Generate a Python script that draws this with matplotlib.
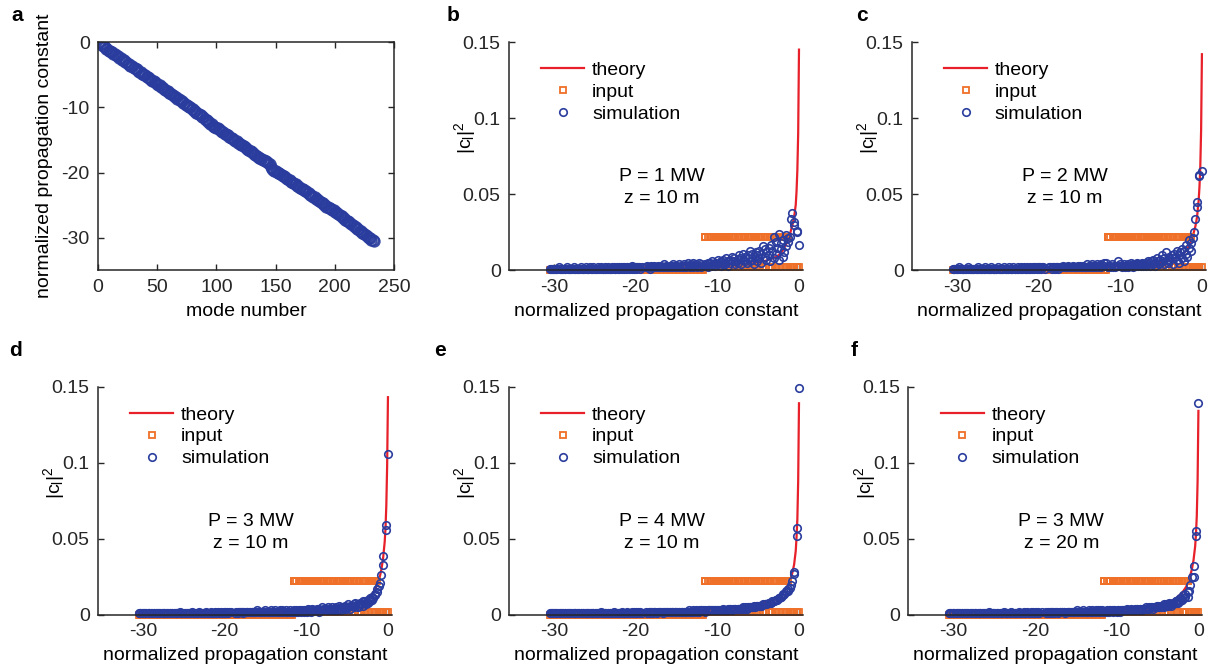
#!/usr/bin/env python
"""Mode propagation constants and thermalised mode occupancies (panels a-f)."""

import matplotlib

matplotlib.use("Agg")
import matplotlib.pyplot as plt
import numpy as np

# normalized propagation constant of each mode (mode 1 .. 233)
BETA = [
    0.0, -0.3, -0.3, -0.6, -0.6, -0.8, -1.0, -1.1, -1.3, -1.3,
    -1.6, -1.6, -1.8, -1.9, -2.0, -2.2, -2.2, -2.5, -2.5, -2.7,
    -2.8, -2.8, -3.1, -3.1, -3.3, -3.4, -3.6, -3.7, -3.7, -4.0,
    -4.0, -4.2, -4.2, -4.4, -4.6, -4.6, -4.9, -4.9, -5.1, -5.1,
    -5.3, -5.4, -5.5, -5.7, -5.8, -6.0, -6.0, -6.2, -6.3, -6.4,
    -6.6, -6.6, -6.9, -6.9, -7.1, -7.2, -7.3, -7.5, -7.5, -7.8,
    -7.8, -8.0, -8.1, -8.2, -8.4, -8.4, -8.7, -8.7, -8.9, -9.1,
    -9.1, -9.3, -9.4, -9.6, -9.6, -9.8, -9.9, -10.0, -10.3, -10.3,
    -10.5, -10.6, -10.8, -10.9, -11.0, -11.2, -11.2, -11.5, -11.5, -11.8,
    -12.0, -12.0, -12.3, -12.3, -12.5, -12.6, -12.8, -13.0, -13.0, -13.2,
    -13.2, -13.4, -13.5, -13.6, -13.8, -13.8, -14.1, -14.1, -14.3, -14.3,
    -14.5, -14.7, -14.7, -14.9, -15.0, -15.2, -15.2, -15.4, -15.5, -15.6,
    -15.8, -15.8, -16.0, -16.1, -16.3, -16.4, -16.5, -16.7, -16.7, -16.9,
    -17.0, -17.2, -17.3, -17.4, -17.6, -17.7, -17.8, -17.9, -18.0, -18.1,
    -18.2, -18.3, -18.4, -18.6, -18.7, -19.2, -19.5, -19.6, -19.7, -19.8,
    -19.9, -20.0, -20.1, -20.2, -20.3, -20.5, -20.5, -20.7, -20.8, -21.0,
    -21.1, -21.2, -21.4, -21.4, -21.6, -21.7, -21.8, -22.0, -22.0, -22.2,
    -22.3, -22.5, -22.5, -22.7, -22.9, -22.9, -23.1, -23.2, -23.4, -23.4,
    -23.6, -23.7, -23.8, -24.0, -24.0, -24.2, -24.3, -24.5, -24.6, -24.7,
    -24.9, -25.0, -25.2, -25.2, -25.4, -25.5, -25.6, -25.8, -25.8, -26.0,
    -26.1, -26.2, -26.4, -26.5, -26.7, -26.7, -26.9, -27.0, -27.2, -27.4,
    -27.4, -27.6, -27.7, -27.9, -28.0, -28.2, -28.3, -28.4, -28.6, -28.7,
    -28.9, -29.0, -29.2, -29.3, -29.4, -29.6, -29.7, -29.9, -30.0, -30.1,
    -30.3, -30.4, -30.5,
]

# launched power per mode, units of 1e-3 (same for every run)
INPUT = [
    2, 2, 2, 2, 2, 2, 2, 2, 22, 22,
    2, 22, 22, 2, 22, 2, 22, 22, 2, 22,
    22, 2, 22, 22, 2, 2, 22, 22, 2, 22,
    2, 22, 22, 2, 22, 22, 2, 22, 2, 22,
    22, 2, 22, 2, 22, 22, 2, 22, 22, 2,
    22, 2, 2, 22, 22, 2, 22, 2, 22, 22,
    2, 22, 2, 22, 22, 2, 2, 22, 22, 2,
    22, 22, 2, 22, 2, 22, 2, 22, 22, 2,
    22, 2, 22, 22, 2, 22, 2, 22, 22, 0,
    0, 0, 0, 0, 0, 0, 0, 0, 0, 0,
    0, 0, 0, 0, 0, 0, 0, 0, 0, 0,
    0, 0, 0, 0, 0, 0, 0, 0, 0, 0,
    0, 0, 0, 0, 0, 0, 0, 0, 0, 0,
    0, 0, 0, 0, 0, 0, 0, 0, 0, 0,
    0, 0, 0, 0, 0, 0, 0, 0, 0, 0,
    0, 0, 0, 0, 0, 0, 0, 0, 0, 0,
    0, 0, 0, 0, 0, 0, 0, 0, 0, 0,
    0, 0, 0, 0, 0, 0, 0, 0, 0, 0,
    0, 0, 0, 0, 0, 0, 0, 0, 0, 0,
    0, 0, 0, 0, 0, 0, 0, 0, 0, 0,
    0, 0, 0, 0, 0, 0, 0, 0, 0, 0,
    0, 0, 0, 0, 0, 0, 0, 0, 0, 0,
    0, 0, 0, 0, 0, 0, 0, 0, 0, 0,
    0, 0, 0,
]

# simulated |c_l|^2 per mode, units of 1e-3
SIM_B = [
    17, 25, 26, 32, 30, 38, 34, 22, 21, 19,
    16, 23, 12, 20, 9, 18, 14, 24, 7, 15,
    19, 11, 22, 8, 13, 17, 6, 10, 15, 12,
    7, 14, 9, 16, 11, 5, 13, 8, 10, 6,
    12, 9, 4, 11, 7, 13, 6, 10, 8, 5,
    9, 6, 11, 7, 4, 8, 10, 5, 7, 6,
    4, 8, 6, 9, 5, 7, 3, 6, 8, 4,
    5, 7, 4, 6, 3, 5, 7, 4, 5, 3,
    4, 6, 3, 5, 4, 2, 5, 3, 4, 3,
    4, 2, 5, 3, 2, 4, 3, 5, 2, 3,
    4, 2, 3, 5, 2, 3, 4, 2, 3, 2,
    3, 4, 2, 3, 2, 3, 2, 4, 2, 3,
    2, 3, 2, 2, 3, 2, 4, 2, 2, 3,
    2, 2, 3, 2, 2, 3, 2, 2, 2, 3,
    2, 1, 2, 3, 2, 2, 1, 2, 2, 2,
    1, 2, 2, 1, 2, 3, 1, 2, 1, 2,
    2, 1, 2, 1, 2, 1, 2, 2, 1, 1,
    2, 1, 1, 2, 1, 2, 1, 1, 2, 1,
    1, 2, 1, 1, 1, 2, 1, 1, 2, 1,
    1, 1, 2, 1, 1, 1, 2, 1, 1, 1,
    2, 1, 1, 1, 1, 2, 1, 1, 1, 1,
    1, 2, 1, 1, 1, 1, 1, 2, 1, 1,
    1, 1, 1, 1, 2, 1, 1, 1, 1, 1,
    1, 1, 1,
]
SIM_C = [
    65, 63, 62, 45, 42, 34, 25, 21, 18, 13,
    20, 15, 9, 17, 11, 13, 6, 14, 8, 12,
    10, 5, 13, 7, 9, 11, 4, 8, 10, 6,
    9, 5, 7, 12, 4, 8, 6, 10, 5, 7,
    4, 6, 8, 3, 5, 7, 4, 6, 3, 5,
    4, 6, 3, 5, 4, 3, 5, 4, 3, 4,
    3, 5, 3, 4, 2, 4, 3, 5, 3, 2,
    4, 3, 2, 4, 3, 2, 3, 4, 6, 3,
    3, 2, 3, 2, 4, 2, 3, 2, 3, 5,
    3, 5, 2, 4, 3, 2, 4, 3, 2, 3,
    2, 4, 2, 3, 2, 3, 2, 4, 2, 2,
    3, 2, 2, 3, 2, 2, 3, 2, 2, 2,
    2, 3, 2, 2, 2, 3, 2, 2, 2, 2,
    3, 2, 2, 2, 1, 2, 2, 2, 1, 2,
    2, 2, 1, 2, 2, 1, 2, 2, 1, 2,
    2, 1, 2, 1, 2, 2, 1, 2, 1, 1,
    2, 1, 1, 2, 1, 1, 2, 1, 1, 2,
    1, 1, 2, 1, 1, 1, 2, 1, 1, 1,
    2, 1, 1, 1, 1, 2, 1, 1, 1, 1,
    1, 2, 1, 1, 1, 1, 1, 2, 1, 1,
    1, 1, 1, 2, 1, 1, 1, 1, 1, 1,
    2, 1, 1, 1, 1, 1, 1, 1, 2, 1,
    1, 1, 1, 1, 1, 1, 2, 1, 1, 1,
    1, 1, 1,
]
SIM_D = [
    106, 59, 56, 39, 33, 26, 21, 19, 17, 15,
    13, 14, 11, 12, 10, 9, 11, 8, 10, 7,
    9, 8, 6, 9, 7, 8, 6, 7, 5, 8,
    6, 5, 7, 6, 4, 6, 5, 7, 4, 5,
    6, 4, 5, 3, 5, 4, 6, 3, 4, 5,
    3, 4, 5, 3, 4, 3, 5, 4, 3, 4,
    4, 3, 5, 3, 4, 2, 3, 4, 3, 3,
    3, 4, 2, 3, 3, 4, 2, 3, 3, 2,
    3, 2, 3, 3, 2, 3, 2, 3, 2, 2,
    2, 3, 2, 2, 3, 2, 2, 3, 2, 2,
    3, 2, 2, 2, 3, 2, 2, 2, 2, 3,
    2, 2, 2, 2, 3, 2, 2, 2, 2, 2,
    2, 2, 3, 2, 2, 2, 2, 2, 2, 2,
    2, 2, 2, 2, 2, 1, 2, 2, 2, 2,
    2, 1, 2, 2, 1, 2, 2, 1, 2, 1,
    2, 1, 2, 1, 1, 2, 1, 1, 2, 1,
    1, 2, 1, 1, 1, 2, 1, 1, 1, 1,
    2, 1, 1, 1, 1, 1, 2, 1, 1, 1,
    1, 1, 1, 2, 1, 1, 1, 1, 1, 1,
    1, 1, 1, 1, 1, 2, 1, 1, 1, 1,
    1, 1, 1, 1, 1, 1, 1, 1, 1, 1,
    1, 1, 1, 1, 1, 1, 1, 1, 1, 1,
    1, 1, 1, 1, 1, 1, 1, 1, 1, 1,
    1, 1, 1,
]
SIM_E = [
    149, 57, 52, 28, 27, 22, 20, 18, 17, 16,
    16, 15, 14, 14, 13, 12, 12, 11, 11, 10,
    10, 10, 9, 9, 9, 8, 8, 8, 8, 7,
    7, 7, 7, 7, 6, 6, 6, 6, 6, 6,
    6, 5, 6, 5, 5, 5, 5, 5, 5, 4,
    5, 4, 4, 5, 4, 4, 4, 4, 4, 4,
    4, 4, 4, 3, 4, 4, 3, 4, 3, 3,
    3, 4, 3, 3, 3, 3, 3, 3, 3, 3,
    3, 3, 3, 3, 3, 3, 3, 2, 3, 3,
    3, 3, 2, 3, 2, 3, 2, 2, 3, 2,
    2, 2, 3, 2, 2, 2, 2, 2, 2, 2,
    2, 2, 2, 2, 2, 2, 2, 2, 2, 2,
    2, 2, 2, 2, 2, 2, 2, 2, 1, 2,
    2, 2, 2, 1, 2, 2, 2, 1, 2, 2,
    1, 2, 2, 1, 2, 1, 2, 1, 2, 1,
    2, 1, 1, 2, 1, 1, 2, 1, 1, 1,
    2, 1, 1, 1, 1, 2, 1, 1, 1, 1,
    1, 1, 1, 2, 1, 1, 1, 1, 1, 1,
    1, 1, 1, 1, 1, 1, 2, 1, 1, 1,
    1, 1, 1, 1, 1, 1, 1, 1, 1, 1,
    1, 1, 1, 1, 1, 1, 1, 1, 1, 1,
    1, 1, 1, 1, 1, 1, 1, 1, 1, 1,
    1, 1, 1, 1, 1, 1, 1, 1, 1, 1,
    1, 1, 1,
]
SIM_F = [
    139, 55, 52, 32, 25, 25, 20, 16, 15, 12,
    14, 12, 11, 13, 10, 9, 11, 8, 10, 9,
    8, 9, 7, 8, 7, 6, 8, 7, 6, 7,
    6, 7, 5, 6, 6, 5, 6, 5, 5, 6,
    5, 5, 4, 5, 5, 4, 5, 4, 4, 5,
    4, 4, 4, 3, 4, 4, 3, 4, 4, 3,
    4, 3, 3, 4, 3, 3, 3, 4, 3, 3,
    3, 3, 3, 2, 3, 3, 3, 2, 3, 3,
    2, 3, 3, 2, 3, 2, 3, 2, 2, 3,
    3, 2, 3, 2, 3, 2, 2, 3, 2, 2,
    2, 3, 2, 2, 2, 2, 3, 2, 2, 2,
    2, 2, 2, 3, 2, 2, 2, 2, 2, 2,
    2, 2, 2, 2, 1, 2, 2, 2, 2, 2,
    2, 1, 2, 2, 2, 1, 2, 2, 1, 2,
    2, 1, 2, 1, 2, 2, 1, 2, 1, 1,
    2, 1, 1, 2, 1, 1, 2, 1, 1, 2,
    1, 1, 1, 2, 1, 1, 1, 1, 2, 1,
    1, 1, 1, 1, 1, 2, 1, 1, 1, 1,
    1, 1, 2, 1, 1, 1, 1, 1, 1, 1,
    1, 1, 1, 1, 1, 1, 2, 1, 1, 1,
    1, 1, 1, 1, 1, 1, 1, 1, 1, 1,
    1, 1, 1, 1, 1, 1, 1, 1, 1, 1,
    1, 1, 1, 1, 1, 1, 1, 1, 1, 1,
    1, 1, 1,
]

# Rayleigh-Jeans theory curves read at these propagation constants, units of 1e-3
THEORY_BETA = [-30.5, -25, -20, -15, -12, -10, -8, -6, -5, -4, -3, -2.5, -2,
               -1.5, -1.2, -1.0, -0.8, -0.6, -0.4, -0.3, -0.2, -0.1, 0.0]
THEORY_B = [1.0, 1.2, 1.4, 1.9, 2.4, 2.8, 3.4, 4.4, 5.2, 6.5, 8.5, 10, 13,
            18, 22, 26, 30, 35, 43, 52, 66, 90, 145]
THEORY_C = [1.0, 1.2, 1.5, 1.9, 2.4, 2.8, 3.4, 4.4, 5.2, 6.4, 8.4, 10, 12.5,
            17, 21, 25, 29, 35, 46, 55, 68, 92, 142]
THEORY_D = [1.0, 1.2, 1.5, 1.9, 2.4, 2.9, 3.5, 4.6, 5.5, 6.8, 9, 10.5, 13,
            17.5, 21.5, 25, 30, 37, 48, 57, 72, 98, 143]
THEORY_E = [1.0, 1.2, 1.5, 2.0, 2.6, 3.3, 4.3, 5.7, 6.7, 8.0, 10.5, 12.5, 14.5,
            18, 21, 24, 28, 33, 42, 51, 63, 88, 139]
THEORY_F = [1.0, 1.2, 1.5, 2.0, 2.5, 3.1, 4.0, 5.4, 6.4, 7.8, 10, 12, 14.5,
            18.5, 22, 26, 30, 36, 45, 53, 65, 88, 134]

POWERS = ["P = 1 MW", "P = 2 MW", "P = 3 MW", "P = 4 MW", "P = 3 MW"]
LENGTHS = ["z = 10 m", "z = 10 m", "z = 10 m", "z = 10 m", "z = 20 m"]

BLUE = "#2a3d9e"
ORANGE = "#ef7028"
RED = "#e8202a"
INK = "#262626"

plt.rcParams["font.family"] = ["Liberation Sans", "DejaVu Sans"]
plt.rcParams["font.size"] = 14
plt.rcParams["axes.unicode_minus"] = False
plt.rcParams["axes.linewidth"] = 1.1
plt.rcParams["axes.edgecolor"] = INK
plt.rcParams["xtick.color"] = INK
plt.rcParams["ytick.color"] = INK


def style_axis(axis, box):
    axis.tick_params(direction="in", length=4, width=1.0, labelsize=14, pad=6,
                     top=box, right=box)
    if not box:
        axis.spines[["top", "right"]].set_visible(False)


def plot_modes(axis):
    modes = np.arange(1, len(BETA) + 1)
    axis.plot(modes, BETA, "o", ms=7.5, mfc="none", mec=BLUE, mew=1.4, alpha=0.9)
    axis.set_xlim(0, 250)
    axis.set_ylim(-35, 0)
    axis.set_xticks([0, 50, 100, 150, 200, 250])
    axis.set_yticks([0, -10, -20, -30])
    axis.set_xlabel("mode number", labelpad=5)
    axis.set_ylabel("normalized propagation constant", labelpad=6)
    style_axis(axis, box=True)


def plot_occupancy(axis, sim, theory, power, length):
    beta = np.asarray(BETA)
    axis.plot(THEORY_BETA, np.asarray(theory) * 1e-3, color=RED, lw=1.6, label="theory")
    axis.plot(beta, np.asarray(INPUT) * 1e-3, "s", ms=4.8, mfc="none", mec=ORANGE,
              mew=1.3, label="input", clip_on=False)
    axis.plot(beta, np.asarray(sim) * 1e-3, "o", ms=5.4, mfc="none", mec=BLUE,
              mew=1.2, label="simulation", clip_on=False)
    axis.set_xlim(-35.5, 0.5)
    axis.set_ylim(0, 0.15)
    axis.set_xticks([-30, -20, -10, 0])
    axis.set_yticks([0, 0.05, 0.1, 0.15])
    axis.set_yticklabels(["0", "0.05", "0.1", "0.15"])
    axis.set_xlabel("normalized propagation constant", labelpad=5)
    axis.set_ylabel(r"$\mathregular{|c_l|^2}$")
    axis.yaxis.set_label_coords(-0.105, 0.58)
    style_axis(axis, box=False)
    axis.legend(frameon=False, loc="upper left", bbox_to_anchor=(0.11, 0.915),
                borderpad=0, borderaxespad=0, handlelength=2.2, handletextpad=0.4,
                labelspacing=0.22, fontsize=14)
    axis.text(0.52, 0.41, power, transform=axis.transAxes, ha="center", va="center")
    axis.text(0.52, 0.315, length, transform=axis.transAxes, ha="center", va="center")


def main():
    figure = plt.figure(figsize=(12.1, 6.67), dpi=100)
    top, bottom, height = 0.5945, 0.078, 0.3425
    width = 0.243
    rects = {
        "a": [0.081, top, 0.2446, height],
        "b": [0.4207, top, width, height],
        "c": [0.7537, top, width, height],
        "d": [0.081, bottom, width, height],
        "e": [0.4207, bottom, width, height],
        "f": [0.7508, bottom, width, height],
    }
    label_pos = {"a": (0.014, 0.977), "b": (0.374, 0.977), "c": (0.712, 0.977),
                 "d": (0.013, 0.475), "e": (0.364, 0.475), "f": (0.706, 0.475)}

    plot_modes(figure.add_axes(rects["a"]))
    runs = [
        ("b", SIM_B, THEORY_B), ("c", SIM_C, THEORY_C), ("d", SIM_D, THEORY_D),
        ("e", SIM_E, THEORY_E), ("f", SIM_F, THEORY_F),
    ]
    for (name, sim, theory), power, length in zip(runs, POWERS, LENGTHS):
        plot_occupancy(figure.add_axes(rects[name]), sim, theory, power, length)

    for name, (x, y) in label_pos.items():
        figure.text(x, y, name, fontsize=15, fontweight="bold", ha="center", va="center")

    figure.savefig("out.png", dpi=100, facecolor="white")
    plt.close(figure)


if __name__ == "__main__":
    main()
